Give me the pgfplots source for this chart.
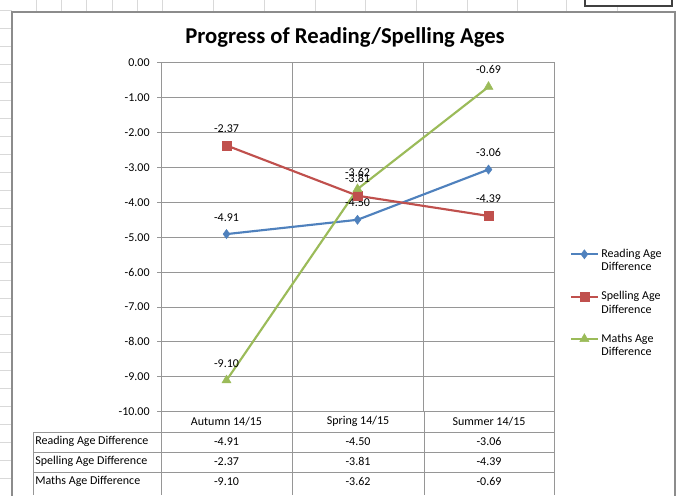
\documentclass[border=0pt]{standalone}
\usepackage{pgfplots}
\pgfplotsset{compat=1.18}
\usepackage{fontspec}
\setmainfont{Carlito}
\definecolor{rblue}{RGB}{79,129,189}
\definecolor{sred}{RGB}{192,80,77}
\definecolor{mgreen}{RGB}{155,187,89}
\definecolor{gridc}{RGB}{150,150,150}
\definecolor{framec}{RGB}{140,140,140}
\newcommand\twoline[2]{\vtop{\hbox{#1}\hbox{#2}}}
\begin{document}
\begin{tikzpicture}
\begin{scope}[x=0.75pt,y=-0.75pt]
\path[use as bounding box] (0,0) rectangle (679,489);
\fill[white] (0,0) rectangle (679,489);
\foreach \yy in {10,28,...,489} \draw[gray!30] (0,\yy) -- (12,\yy);
\foreach \xx in {36,61,86,112,137,162,213,264,315,365,416,467,517,566,617} \draw[gray!30] (\xx,0) -- (\xx,12);
\draw[black!75, line width=0.8pt, fill=white] (585,-3) rectangle (672,6);
\draw[framec, line width=1pt] (12,12) rectangle (675,500);
\node[font=\bfseries\fontsize{17}{19}\selectfont] at (345,37) {Progress of Reading/Spelling Ages};
\end{scope}
\begin{axis}[
  scale only axis, width=294.75pt, height=261.75pt,
  at={(120.75pt,-308.8pt)}, anchor=south west,
  xmin=-0.5, xmax=2.5, ymin=-10, ymax=0,
  xtick={0.5,1.5}, xticklabels={}, xmajorgrids,
  x tick style={draw=none},
  ytick={-10,-9,...,0}, ymajorgrids,
  grid style={gridc, line width=0.75pt},
  axis line style={gridc, line width=0.75pt},
  y tick style={gridc, line width=0.75pt},
  tick align=outside, ytick pos=left, major tick length=3pt,
  yticklabel={\pgfmathprintnumber[fixed,fixed zerofill,precision=2,assume math mode=true]{\tick}},
  yticklabel style={font=\fontsize{9}{10}\selectfont, xshift=-2pt},
  clip=false,
  every node near coord/.append style={black, font=\fontsize{9}{10}\selectfont, anchor=south, yshift=9.5pt, inner sep=0pt},
  legend style={at={(1.03,0.482)}, anchor=north west, draw=none, fill=none,
    font=\fontsize{9}{10}\selectfont, row sep=20pt},
  legend cell align=left,
  legend image code/.code={\draw[mark repeat=2,mark phase=2] plot coordinates {(0cm,0cm)(0.35cm,0cm)(0.7cm,0cm)};},
]
\addplot[rblue, line width=1.6pt, mark=diamond*, mark size=3.4pt, mark options={solid,fill=rblue,line width=0.4pt},
  nodes near coords, point meta=explicit symbolic]
  coordinates {(0,-4.91)[-4.91] (1,-4.50)[-4.50] (2,-3.06)[-3.06]};
\addlegendentry{\twoline{Reading Age}{Difference}}
\addplot[sred, line width=1.6pt, mark=square*, mark size=3.3pt, mark options={solid,fill=sred,line width=0.4pt},
  nodes near coords, point meta=explicit symbolic]
  coordinates {(0,-2.37)[-2.37] (1,-3.81)[-3.81] (2,-4.39)[-4.39]};
\addlegendentry{\twoline{Spelling Age}{Difference}}
\addplot[mgreen, line width=1.6pt, mark=triangle*, mark size=3.9pt, mark options={solid,fill=mgreen,line width=0.4pt},
  nodes near coords, point meta=explicit symbolic]
  coordinates {(0,-9.10)[-9.10] (1,-3.62)[-3.62] (2,-0.69)[-0.69]};
\addlegendentry{\twoline{Maths Age}{Difference}}
\end{axis}
\begin{scope}[x=0.75pt,y=-0.75pt]
\draw[gridc, line width=0.75pt] (33,432) -- (554,432) (33,452) -- (554,452) (33,472) -- (554,472)
  (33,432) -- (33,495) (161,411.7) -- (161,495) (292,411.7) -- (292,495) (424,411.7) -- (424,495) (554,411.7) -- (554,495);
\begin{scope}[every node/.style={font=\fontsize{9}{10}\selectfont, inner sep=0pt}]
\node at (226.5,421.7) {Autumn 14/15};
\node at (358,421.7) {Spring 14/15};
\node at (489,421.7) {Summer 14/15};
\node[anchor=west] at (35,441.7) {Reading Age Difference};
\node[anchor=west] at (35,461.7) {Spelling Age Difference};
\node[anchor=west] at (35,481.2) {Maths Age Difference};
\node at (226.5,441.7) {-4.91};
\node at (358,441.7) {-4.50};
\node at (489,441.7) {-3.06};
\node at (226.5,461.7) {-2.37};
\node at (358,461.7) {-3.81};
\node at (489,461.7) {-4.39};
\node at (226.5,481.2) {-9.10};
\node at (358,481.2) {-3.62};
\node at (489,481.2) {-0.69};
\end{scope}
\end{scope}
\end{tikzpicture}
\end{document}
